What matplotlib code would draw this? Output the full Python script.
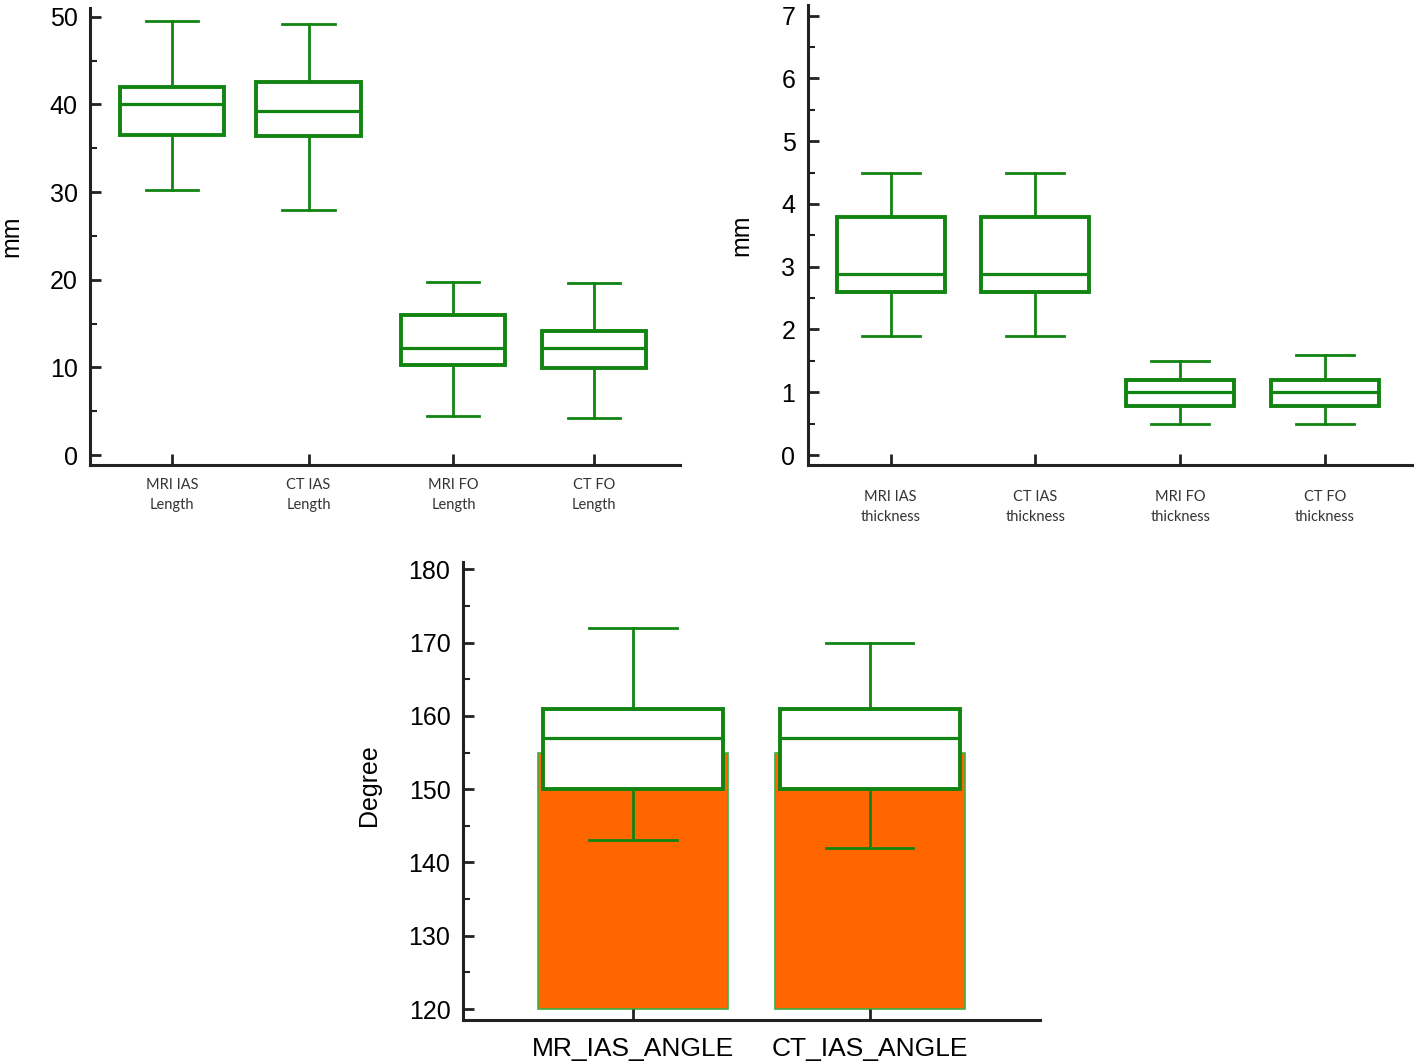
import matplotlib.pyplot as plt

# dados
len_labels = ['MRI IAS\nLength', 'CT IAS\nLength', 'MRI FO\nLength', 'CT FO\nLength']
len_whislo = [30.2, 28.0, 4.4, 4.2]
len_q1 = [36.5, 36.4, 10.3, 9.9]
len_med = [40.0, 39.3, 12.2, 12.2]
len_q3 = [42.0, 42.6, 16.0, 14.2]
len_whishi = [49.5, 49.2, 19.7, 19.6]

thk_labels = ['MRI IAS\nthickness', 'CT IAS\nthickness', 'MRI FO\nthickness', 'CT FO\nthickness']
thk_whislo = [1.9, 1.9, 0.5, 0.5]
thk_q1 = [2.6, 2.6, 0.78, 0.78]
thk_med = [2.88, 2.88, 1.0, 1.0]
thk_q3 = [3.8, 3.8, 1.2, 1.2]
thk_whishi = [4.5, 4.5, 1.5, 1.6]

ang_labels = ['MR_IAS_ANGLE', 'CT_IAS_ANGLE']
ang_mean = [155, 155]
ang_whislo = [143, 142]
ang_q1 = [150, 150]
ang_med = [157, 157]
ang_q3 = [161, 161]
ang_whishi = [172, 170]

verde = '#128412'
laranja = '#ff6600'
eixo = '#222222'

plt.rcParams['font.family'] = ['Liberation Sans', 'DejaVu Sans']


def stats(lo, q1, med, q3, hi):
    return [dict(whislo=a, q1=b, med=c, q3=d, whishi=e, fliers=[])
            for a, b, c, d, e in zip(lo, q1, med, q3, hi)]


def estilo(ax):
    for s in ['top', 'right']:
        ax.spines[s].set_visible(False)
    for s in ['left', 'bottom']:
        ax.spines[s].set_linewidth(2.2)
        ax.spines[s].set_color(eixo)
    ax.tick_params(axis='both', which='major', direction='in', length=8,
                   width=2, color=eixo, labelsize=18)
    ax.tick_params(axis='y', which='minor', direction='in', length=5,
                   width=1.5, color=eixo)
    ax.tick_params(axis='y', pad=9)


def caixas(ax, st, pos, larg, cap, lw_box=2.8, lw_wh=2):
    ax.bxp(st, positions=pos, widths=larg, showfliers=False, patch_artist=True,
           capwidths=cap, manage_ticks=False,
           boxprops=dict(facecolor='white', edgecolor=verde, linewidth=lw_box),
           medianprops=dict(color=verde, linewidth=lw_box - 0.5),
           whiskerprops=dict(color=verde, linewidth=lw_wh),
           capprops=dict(color=verde, linewidth=lw_wh))


def rotulos_pequenos(ax):
    for t in ax.get_xticklabels():
        t.set_fontfamily('Lato')
        t.set_fontsize(10.5)
        t.set_color('#333333')
        t.set_linespacing(1.55)


fig = plt.figure(figsize=(14.18, 10.62), dpi=100)

# painel 1 - comprimento
ax1 = fig.add_axes([0.0635, 0.5621, 0.416, 0.4304])
pos1 = [1, 1.97, 3, 4]
caixas(ax1, stats(len_whislo, len_q1, len_med, len_q3, len_whishi), pos1, 0.74, 0.37)
ax1.set_xlim(0.417, 4.61)
ax1.set_ylim(-1.14, 51.0)
ax1.set_yticks([0, 10, 20, 30, 40, 50])
ax1.set_yticks([5, 15, 25, 35, 45], minor=True)
ax1.set_xticks(pos1)
ax1.set_xticklabels(len_labels)
estilo(ax1)
ax1.tick_params(axis='x', pad=9)
rotulos_pequenos(ax1)
ax1.set_ylabel('mm', fontsize=18)
ax1.yaxis.set_label_coords(-0.113, 0.5)

# painel 2 - espessura
ax2 = fig.add_axes([0.5698, 0.5621, 0.426, 0.4332])
pos2 = [1, 2, 3, 4]
caixas(ax2, stats(thk_whislo, thk_q1, thk_med, thk_q3, thk_whishi), pos2, 0.745, 0.4)
ax2.set_xlim(0.43, 4.6)
ax2.set_ylim(-0.16, 7.17)
ax2.set_yticks(range(0, 8))
ax2.set_yticks([0.5, 1.5, 2.5, 3.5, 4.5, 5.5, 6.5], minor=True)
ax2.set_xticks(pos2)
ax2.set_xticklabels(thk_labels)
estilo(ax2)
ax2.tick_params(axis='x', pad=18)
rotulos_pequenos(ax2)
ax2.set_ylabel('mm', fontsize=18)
ax2.yaxis.set_label_coords(-0.091, 0.5)

# painel 3 - ângulo
ax3 = fig.add_axes([0.3265, 0.0395, 0.4069, 0.4313])
pos3 = [1, 2]
ax3.bar(pos3, [m - 120 for m in ang_mean], bottom=120, width=0.805,
        color=laranja, edgecolor='#3cb043', linewidth=1.2, zorder=1)
caixas(ax3, stats(ang_whislo, ang_q1, ang_med, ang_q3, ang_whishi), pos3, 0.76, 0.37)
ax3.set_xlim(0.28, 2.72)
ax3.set_ylim(118.5, 181)
ax3.set_yticks(range(120, 181, 10))
ax3.set_yticks(range(125, 180, 10), minor=True)
ax3.set_xticks(pos3)
ax3.set_xticklabels(ang_labels)
estilo(ax3)
ax3.tick_params(axis='x', labelsize=19, pad=12)
ax3.set_ylabel('Degree', fontsize=18)
ax3.yaxis.set_label_coords(-0.142, 0.513)

fig.savefig('out.png', dpi=100)
